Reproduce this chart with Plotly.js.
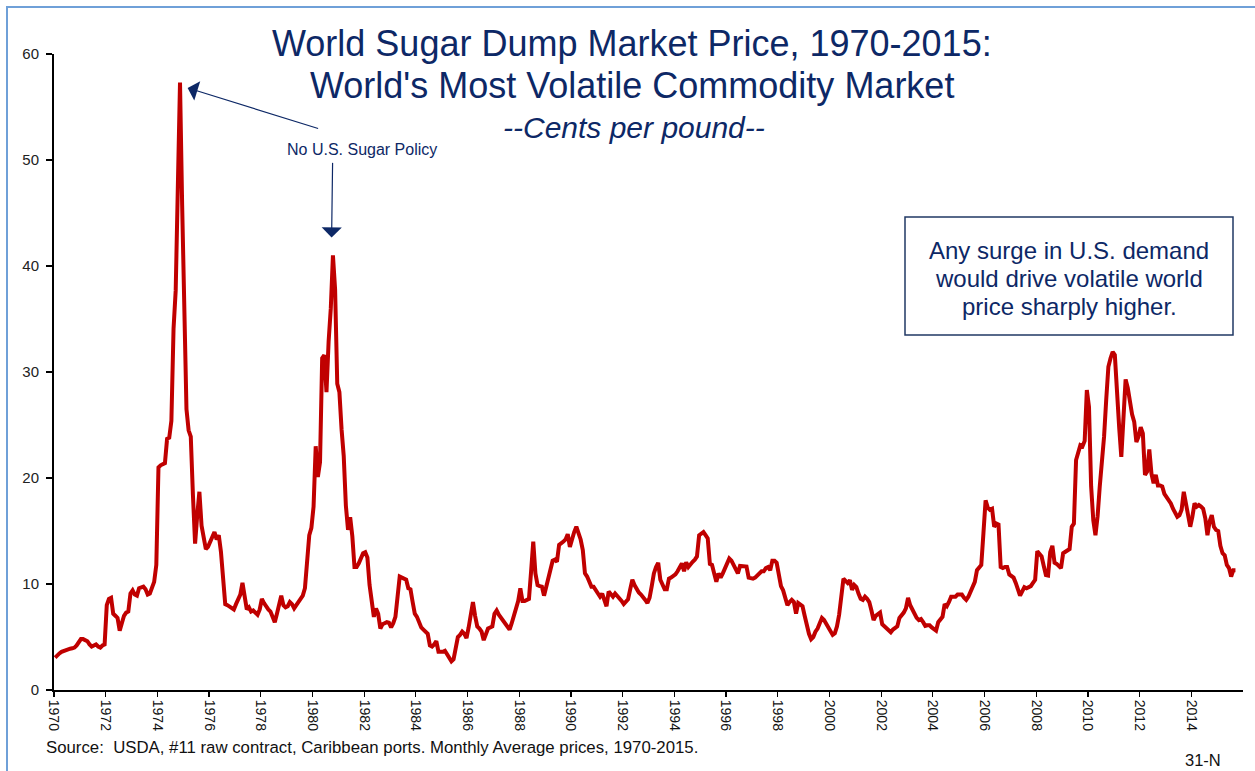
<!DOCTYPE html>
<html>
<head>
<meta charset="utf-8">
<script src="https://cdn.plot.ly/plotly-3.0.1.min.js"></script>
<style>
  html, body { margin: 0; padding: 0; background: #ffffff; }
  #chart { width: 1255px; height: 771px; }
</style>
</head>
<body>
<div id="chart"></div>
<script>
// ---- Data: monthly average world raw sugar price (cents per pound), Jan 1970 - Sep 2015 ----
const startYear = 1970;
const prices1970s = [
  3.05, 3.3, 3.45, 3.6, 3.7, 3.8, 3.85, 3.9, 3.93, 4.0, 4.2, 4.5,
  4.8, 4.8, 4.7, 4.6, 4.3, 4.1, 4.2, 4.3, 4.1, 4.0, 4.2, 4.3,
  8.0, 8.6, 8.7, 7.2, 7.0, 6.8, 5.6, 6.3, 7.0, 7.3, 7.4, 9.1,
  9.4, 9.0, 8.9, 9.6, 9.7, 9.75, 9.5, 9.0, 9.1, 9.6, 10.2, 11.8,
  21.0, 21.2, 21.3, 21.4, 23.7, 23.8, 25.4, 34.1, 37.7, 49.7, 57.3, 45.7,
  37.7, 26.5, 24.5, 23.9, 18.4, 13.8, 16.5, 18.7, 15.5, 14.2, 13.3, 13.5,
  14.0, 14.5, 14.9, 14.2, 14.6, 13.05, 10.5, 8.1, 8.0, 7.9, 7.7, 7.6,
  8.1, 8.5, 9.0, 10.1, 8.5, 7.6, 7.8, 7.4, 7.5, 7.3, 7.1, 7.6,
  8.6, 8.2, 7.8, 7.6, 7.4, 7.0, 6.4, 7.2, 8.2, 8.9, 8.0, 7.8,
  7.9, 8.3, 8.1, 7.7, 8.0, 8.3, 8.6, 8.9, 9.6, 12.3, 14.6, 15.3
];
const prices1980s = [
  17.3, 23.0, 20.1, 21.5, 31.3, 31.6, 28.1, 32.9, 36.0, 41.0, 37.8, 28.9,
  28.1, 24.6, 22.1, 17.4, 15.1, 16.3, 14.5, 11.6, 11.6, 11.95, 12.5, 12.9,
  13.0, 12.5, 9.9, 8.4, 6.9, 7.7, 7.2, 5.8, 6.2, 6.3, 6.4, 6.35,
  5.9, 6.3, 6.9, 8.8, 10.7, 10.6, 10.5, 10.4, 9.6, 9.5, 8.3, 7.2,
  6.9, 6.4, 5.9, 5.7, 5.5, 5.3, 4.2, 4.1, 4.3, 4.6, 3.6, 3.6,
  3.6, 3.7, 3.4, 3.1, 2.7, 2.9, 3.9, 5.0, 5.2, 5.5, 5.3, 4.9,
  5.9, 7.0, 8.3, 7.0, 6.0, 5.8, 5.5, 4.7, 5.3, 5.8, 5.9, 6.0,
  7.2, 7.5, 7.1, 6.8, 6.55, 6.2, 5.9, 5.7, 6.3, 7.0, 7.6, 8.4,
  9.6, 8.4, 8.4, 8.55, 8.6, 11.2, 14.0, 11.0, 9.9, 9.8, 9.75, 8.9,
  9.75, 10.7, 11.6, 12.2, 12.3, 12.1, 13.7, 13.8, 14.0, 14.2, 14.7, 13.5
];
const prices1990s = [
  14.3, 14.9, 15.4, 14.9, 14.2, 13.2, 11.0, 10.7, 10.2, 9.75, 9.75, 9.4,
  9.0, 8.8, 9.1, 8.6, 7.9, 9.3, 9.0, 8.8, 9.1, 8.9, 8.6, 8.4,
  8.1, 8.3, 8.55, 9.5, 10.4, 9.9, 9.5, 9.2, 9.0, 8.8, 8.5, 8.2,
  8.7, 9.8, 11.0, 11.6, 12.0, 10.4, 9.9, 9.5, 9.5, 10.5, 10.6, 10.7,
  10.9, 11.2, 11.6, 11.95, 11.2, 12.05, 11.6, 11.9, 12.1, 12.3, 12.6, 14.6,
  14.7, 14.9, 14.6, 14.3, 11.9, 11.8, 11.0, 10.2, 11.0, 10.6, 11.0, 11.4,
  11.9, 12.4, 12.2, 11.8, 11.3, 11.0, 11.7, 11.7, 11.65, 11.65, 10.6, 10.5,
  10.5, 10.6, 10.8, 11.0, 11.2, 11.2, 11.5, 11.6, 11.3, 12.2, 12.2, 12.0,
  10.9, 9.8, 9.4, 8.8, 8.0, 8.3, 8.5, 8.3, 7.2, 8.2, 8.0, 7.9,
  7.0, 6.0, 5.3, 4.8, 5.0, 5.5, 5.8, 6.3, 6.8, 6.6, 6.2, 5.8
];
const prices2000s = [
  5.5, 5.2, 5.35, 6.0, 7.1, 9.1, 10.5, 10.3, 10.1, 10.35, 9.45, 9.9,
  9.7, 9.1, 8.6, 8.5, 8.8, 8.6, 8.3, 7.5, 6.6, 7.0, 7.2, 7.3,
  6.2, 6.0, 5.8, 5.7, 5.45, 5.7, 5.9, 6.0, 6.8, 7.0, 7.3, 7.7,
  8.7, 8.0, 7.6, 7.1, 6.8, 6.6, 6.7, 6.4, 6.05, 6.1, 6.1, 5.9,
  5.8, 5.6, 6.4, 6.6, 6.9, 8.1, 7.9, 8.3, 8.8, 8.8, 8.8, 9.0,
  9.0, 9.0, 8.7, 8.5, 8.8, 9.2, 9.6, 10.2, 11.3, 11.5, 11.8, 14.8,
  17.9, 17.2, 17.0, 17.1, 15.4, 15.7, 15.6, 11.6, 11.5, 11.6, 11.6, 10.9,
  10.7, 10.6, 10.1, 9.6, 8.9, 9.3, 9.7, 9.6, 9.7, 9.8, 10.1, 10.4,
  13.1, 12.9, 12.6, 11.7, 10.85, 10.8, 13.0, 13.6, 12.0, 11.9, 11.7, 11.5,
  12.9, 13.0, 13.1, 13.3, 15.4, 15.7, 21.7, 22.6, 23.1, 23.0, 23.5, 28.3
];
const prices2010s = [
  26.7, 19.2, 16.0, 14.6, 16.4, 19.2, 21.5, 23.9, 27.4, 30.5, 31.3, 31.9,
  31.6, 27.7, 24.8, 22.0, 26.4, 29.3, 28.5, 27.0, 26.0, 25.3, 23.4, 23.9,
  24.8, 24.2, 20.3, 20.6, 22.7, 20.4, 19.5, 20.3, 19.3, 19.3, 19.2, 18.5,
  18.2, 18.0, 17.6, 17.1, 16.7, 16.35, 16.5, 17.0, 18.7, 17.6, 16.5, 15.4,
  16.35, 17.6, 17.3, 17.45, 17.3, 17.1, 16.2, 14.6, 15.9, 16.5, 15.4, 15.1,
  15.0, 13.6, 12.9, 12.7, 11.8, 11.5, 10.7, 11.3, 11.3
];
const tickYears = [1970,1972,1974,1976,1978,1980,1982,1984,1986,1988,1990,1992,
                   1994,1996,1998,2000,2002,2004,2006,2008,2010,2012,2014];
const tickLabels = tickYears.map(String);

const titleLine1 = "World Sugar Dump Market Price, 1970-2015:";
const titleLine2 = "World's Most Volatile Commodity Market";
const subtitle = "--Cents per pound--";
const peakNote = "No U.S. Sugar Policy";
const boxLines = ["Any surge in U.S. demand", "would drive volatile world", "price sharply higher."];
const sourceNote = "Source:\u00a0 USDA, #11 raw contract, Caribbean ports. Monthly Average prices, 1970-2015.";
const pageId = "31-N";
// arrow targets (peak months referenced by the note)
const peak1 = {x: 1975.17, y: 56.8};
const peak2 = {x: 1980.74, y: 42.7};

// ---- Build series (each month plotted at the middle of its month) ----
const prices = [].concat(prices1970s, prices1980s, prices1990s, prices2000s, prices2010s);
const xs = prices.map((_, i) => startYear + (i + 0.5) / 12);

// ---- Layout geometry helpers ----
const W = 1255, H = 771;
const M = {l: 54, r: 12, t: 54, b: 81};
const plotW = W - M.l - M.r, plotH = H - M.t - M.b;
const px = x => (x - M.l) / plotW;          // pixel x -> paper x
const py = y => (H - M.b - y) / plotH;      // pixel y -> paper y

const navy = '#0d2866';
const arial = 'Liberation Sans, Arial, sans-serif';
const narrow = 'Liberation Sans Narrow, Arial Narrow, Liberation Sans, Arial, sans-serif';

const trace = {
  x: xs, y: prices, type: 'scatter', mode: 'lines',
  line: {color: '#c00000', width: 4},
  hoverinfo: 'x+y', showlegend: false
};

const ann = [];
ann.push({xref:'paper', yref:'paper', x: px(632), y: py(44), text: titleLine1, showarrow:false,
  xanchor:'center', yanchor:'middle', font:{family: arial, size:36, color: navy}});
ann.push({xref:'paper', yref:'paper', x: px(632), y: py(85), text: titleLine2, showarrow:false,
  xanchor:'center', yanchor:'middle', font:{family: arial, size:36, color: navy}});
ann.push({xref:'paper', yref:'paper', x: px(634), y: py(127), text: '<i>' + subtitle + '</i>', showarrow:false,
  xanchor:'center', yanchor:'middle', font:{family: arial, size:30, color: navy}});
ann.push({xref:'paper', yref:'paper', x: px(361.5), y: py(149), text: peakNote, showarrow:false,
  xanchor:'center', yanchor:'middle', font:{family: arial, size:16, color: navy}});
// arrows
ann.push({x: peak1.x, y: peak1.y, xref:'x', yref:'y', text:'', showarrow:true,
  ax: 132, ay: 41, axref:'pixel', ayref:'pixel', arrowhead:1, arrowsize:2.8, arrowwidth:1.2, arrowcolor: navy});
ann.push({x: peak2.x, y: peak2.y, xref:'x', yref:'y', text:'', showarrow:true,
  ax: 1, ay: -76, axref:'pixel', ayref:'pixel', arrowhead:1, arrowsize:2.8, arrowwidth:1.2, arrowcolor: navy});
// box text
const boxY = [250, 278, 306];
boxLines.forEach((t, k) => ann.push({xref:'paper', yref:'paper', x: px(1069), y: py(boxY[k]), text: t,
  showarrow:false, xanchor:'center', yanchor:'middle', font:{family: arial, size:24, color: navy}}));
// footer
ann.push({xref:'paper', yref:'paper', x: px(44), y: py(747), text: sourceNote, showarrow:false,
  xanchor:'left', yanchor:'middle', font:{family: narrow, size:16.8, color:'#111'}});
ann.push({xref:'paper', yref:'paper', x: px(1223), y: py(760), text: pageId, showarrow:false,
  xanchor:'right', yanchor:'middle', font:{family: narrow, size:16.5, color:'#111'}});

const shapes = [
  // callout box
  {type:'rect', xref:'paper', yref:'paper', x0: px(905), x1: px(1233), y0: py(335), y1: py(217),
   line:{color:'#203864', width:1.5}, fillcolor:'rgba(0,0,0,0)'},
  // page frame
  {type:'rect', xref:'paper', yref:'paper', x0: px(7), x1: px(1400), y0: py(900), y1: py(7),
   line:{color:'#6fa0d8', width:2}, fillcolor:'rgba(0,0,0,0)', layer:'below'}
];

const layout = {
  width: W, height: H,
  margin: M,
  paper_bgcolor: '#ffffff', plot_bgcolor: '#ffffff',
  showlegend: false,
  xaxis: {
    range: [1970, 2016], showgrid: false, zeroline: false,
    showline: true, linecolor: '#000', linewidth: 2,
    ticks: 'outside', ticklen: 5, tickwidth: 1.2, tickcolor: '#000',
    tickmode: 'array', tickvals: tickYears, ticktext: tickLabels, tickangle: 90,
    tickfont: {family: narrow, size: 14, color: '#111'}, fixedrange: true
  },
  yaxis: {
    range: [0, 60], dtick: 10, tick0: 0, showgrid: false, zeroline: false,
    showline: true, linecolor: '#000', linewidth: 2,
    ticks: 'outside', ticklen: 6, tickwidth: 1.2, tickcolor: '#000',
    ticklabelstandoff: 4,
    tickfont: {family: arial, size: 15, color: '#222'}, fixedrange: true
  },
  annotations: ann,
  shapes: shapes
};

Plotly.newPlot('chart', [trace], layout, {displayModeBar: false, staticPlot: true});
</script>
</body>
</html>
